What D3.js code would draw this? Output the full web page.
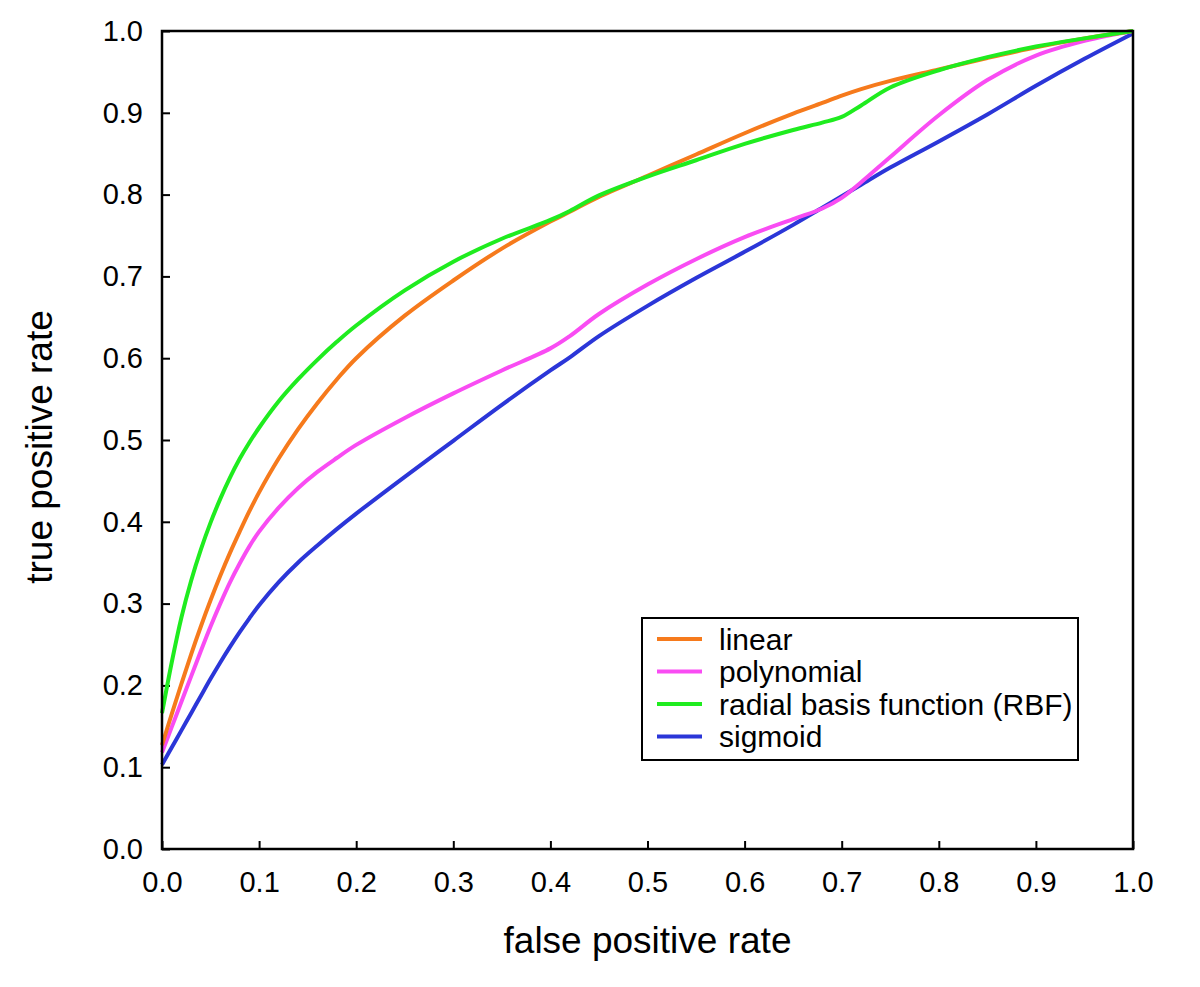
<!DOCTYPE html>
<html>
<head>
<meta charset="utf-8">
<script src="https://cdn.jsdelivr.net/npm/d3@7"></script>
<style>
  html, body { margin: 0; padding: 0; background: #fff; }
  svg { display: block; }
  text { font-family: "Liberation Sans", Arial, sans-serif; fill: #000; }
</style>
</head>
<body>
<svg id="chart" width="1200" height="987"></svg>
<script>
// ---- data ----
const fpr = [0, 0.01, 0.02, 0.03, 0.04, 0.05, 0.06, 0.07, 0.08, 0.09, 0.10, 0.12, 0.14, 0.16, 0.18, 0.20, 0.25, 0.30, 0.35, 0.40, 0.42, 0.45, 0.50, 0.55, 0.60, 0.65, 0.68, 0.70, 0.72, 0.75, 0.80, 0.85, 0.90, 0.95, 1.00];
const linearTpr = [0.127, 0.165, 0.202, 0.238, 0.272, 0.304, 0.334, 0.362, 0.388, 0.413, 0.436, 0.477, 0.513, 0.545, 0.574, 0.600, 0.652, 0.695, 0.734, 0.767, 0.779, 0.797, 0.823, 0.849, 0.875, 0.899, 0.912, 0.921, 0.929, 0.939, 0.953, 0.967, 0.980, 0.991, 1.000];
const polynomialTpr = [0.118, 0.149, 0.180, 0.211, 0.242, 0.272, 0.300, 0.326, 0.349, 0.370, 0.388, 0.417, 0.441, 0.461, 0.478, 0.494, 0.527, 0.557, 0.585, 0.612, 0.627, 0.654, 0.690, 0.721, 0.748, 0.770, 0.783, 0.796, 0.815, 0.846, 0.897, 0.940, 0.970, 0.988, 1.000];
const rbfTpr = [0.166, 0.228, 0.283, 0.328, 0.366, 0.399, 0.428, 0.454, 0.477, 0.497, 0.515, 0.547, 0.574, 0.598, 0.620, 0.640, 0.683, 0.718, 0.746, 0.769, 0.780, 0.799, 0.822, 0.842, 0.862, 0.879, 0.888, 0.895, 0.909, 0.931, 0.952, 0.968, 0.981, 0.991, 1.000];
const sigmoidTpr = [0.103, 0.124, 0.145, 0.166, 0.187, 0.208, 0.228, 0.247, 0.265, 0.282, 0.298, 0.326, 0.350, 0.371, 0.391, 0.410, 0.455, 0.499, 0.543, 0.585, 0.601, 0.627, 0.664, 0.698, 0.730, 0.763, 0.784, 0.798, 0.812, 0.833, 0.865, 0.898, 0.933, 0.966, 0.997];

const seriesNames = ["linear", "polynomial", "radial basis function (RBF)", "sigmoid"];
const seriesValues = [linearTpr, polynomialTpr, rbfTpr, sigmoidTpr];
const seriesColors = ["#f67a1c", "#f94cf3", "#1fec1f", "#2b36d8"];
const drawOrder = [3, 1, 0, 2]; // sigmoid, polynomial, linear, RBF on top

const xTicks = [0, 0.1, 0.2, 0.3, 0.4, 0.5, 0.6, 0.7, 0.8, 0.9, 1.0];
const yTicks = [0, 0.1, 0.2, 0.3, 0.4, 0.5, 0.6, 0.7, 0.8, 0.9, 1.0];
const xTitle = "false positive rate";
const yTitle = "true positive rate";

// ---- layout ----
const plotLeft = 162, plotRight = 1133, plotTop = 31, plotBottom = 849;
const svg = d3.select("#chart");

const x = d3.scaleLinear().domain([0, 1]).range([plotLeft, plotRight]);
const y = d3.scaleLinear().domain([0, 1]).range([plotBottom, plotTop]);

// axes (ticks pointing inward)
const xAxis = d3.axisBottom(x).tickValues(xTicks).tickFormat(d3.format(".1f"))
  .tickSizeInner(-8).tickSizeOuter(0).tickPadding(22);
const yAxis = d3.axisLeft(y).tickValues(yTicks).tickFormat(d3.format(".1f"))
  .tickSizeInner(-8).tickSizeOuter(0).tickPadding(19);

const gx = svg.append("g").attr("transform", `translate(0,${plotBottom})`).call(xAxis);
const gy = svg.append("g").attr("transform", `translate(${plotLeft},0)`).call(yAxis);
[gx, gy].forEach(g => {
  g.select(".domain").remove();
  g.selectAll(".tick line").attr("stroke", "#000").attr("stroke-width", 2);
  g.selectAll(".tick text").attr("font-size", 29).attr("font-family", "Liberation Sans, Arial, sans-serif").attr("fill", "#000");
});

// curves
const line = d3.line()
  .x((d, i) => x(fpr[i]))
  .y(d => y(d))
  .curve(d3.curveCatmullRom.alpha(0.5));

const curves = svg.append("g");
drawOrder.forEach(k => {
  curves.append("path")
    .datum(seriesValues[k])
    .attr("fill", "none")
    .attr("stroke", seriesColors[k])
    .attr("stroke-width", 4)
    .attr("stroke-linejoin", "round")
    .attr("stroke-linecap", "butt")
    .attr("d", line);
});

// frame
svg.append("rect")
  .attr("x", plotLeft).attr("y", plotTop)
  .attr("width", plotRight - plotLeft).attr("height", plotBottom - plotTop)
  .attr("fill", "none").attr("stroke", "#000").attr("stroke-width", 2.5);

// axis titles
svg.append("text")
  .attr("x", (plotLeft + plotRight) / 2).attr("y", 953)
  .attr("text-anchor", "middle").attr("font-size", 37)
  .text(xTitle);
svg.append("text")
  .attr("transform", `translate(52,447) rotate(-90)`)
  .attr("text-anchor", "middle").attr("font-size", 37)
  .text(yTitle);

// legend
const lg = svg.append("g");
lg.append("rect")
  .attr("x", 642).attr("y", 618).attr("width", 436).attr("height", 142)
  .attr("fill", "#fff").attr("stroke", "#000").attr("stroke-width", 2);
const rowY = d3.scalePoint().domain(d3.range(seriesNames.length)).range([639, 736.5]);
seriesNames.forEach((name, i) => {
  lg.append("line")
    .attr("x1", 657).attr("x2", 702)
    .attr("y1", rowY(i)).attr("y2", rowY(i))
    .attr("stroke", seriesColors[i]).attr("stroke-width", 4);
  lg.append("text")
    .attr("x", 719).attr("y", rowY(i)).attr("dy", "0.35em")
    .attr("font-size", 30)
    .text(name);
});
</script>
</body>
</html>
